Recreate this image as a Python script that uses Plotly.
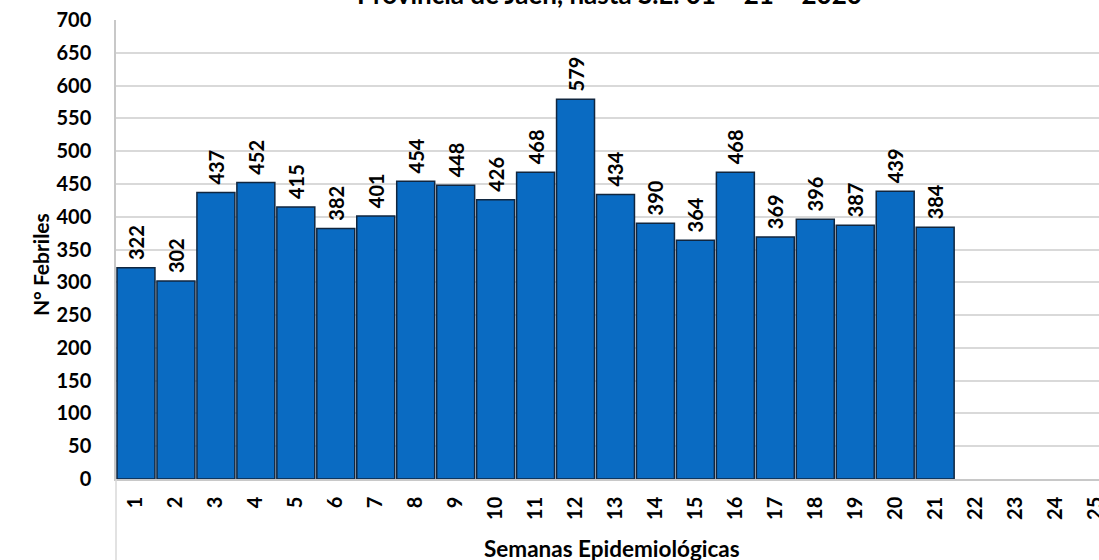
import plotly.graph_objects as go

weeks = [str(i) for i in range(1, 26)]
values = [322, 302, 437, 452, 415, 382, 401, 454, 448, 426, 468, 579, 434, 390, 364, 468, 369, 396, 387, 439, 384]
y_ticks = list(range(0, 701, 50))

title_text = "Provincia de Jaén, hasta S.E. 01 – 21 – 2020"
x_title = "Semanas Epidemiológicas"
y_title = "N° Febriles"

FONT = "Lato"

fig = go.Figure()
fig.add_trace(go.Bar(
    x=weeks[:len(values)], y=values,
    marker=dict(color="#0A6BC2", line=dict(color="#10263F", width=1.5)),
    text=["\u00a0" + str(v) for v in values], textposition="outside", textangle=-90,
    textfont=dict(family=FONT, size=20, color="black", weight="bold"),
    cliponaxis=False, hoverinfo="x+y",
))

fig.update_layout(
    width=1099, height=560,
    margin=dict(l=116, r=0, t=20, b=81),
    paper_bgcolor="white", plot_bgcolor="white",
    showlegend=False, bargap=0.05,
    font=dict(family=FONT, color="black"),
    uniformtext=dict(minsize=20, mode="show"),
    xaxis=dict(
        type="category", categoryorder="array", categoryarray=weeks,
        range=[-0.5, 24.1], tickangle=-90, showgrid=False, automargin=False,
        tickfont=dict(family=FONT, size=20, weight="bold", color="black"),
        ticks="", showline=True, linecolor="#C8C8C8", linewidth=1.5,
        ticklabelstandoff=8,
    ),
    yaxis=dict(
        range=[0, 700], tickvals=y_ticks, showgrid=True, gridcolor="#D9D9D9", gridwidth=1.5,
        tickfont=dict(family=FONT, size=20, weight="bold", color="black"),
        showline=True, linecolor="#C8C8C8", linewidth=1.5, zeroline=False,
        ticklabelstandoff=19, automargin=False,
    ),
    annotations=[
        dict(text=title_text, xref="paper", yref="paper", x=0.5025, y=1.0, yshift=8,
             xanchor="center", yanchor="bottom", showarrow=False,
             font=dict(family=FONT, size=26, weight="bold", color="black")),
        dict(text=x_title, xref="paper", yref="paper", x=0.5046, y=-0.1525,
             xanchor="center", yanchor="middle", showarrow=False,
             font=dict(family=FONT, size=22.5, weight="bold", color="black")),
        dict(text=y_title, xref="paper", yref="paper", x=-0.0773, y=0.466,
             xanchor="center", yanchor="middle", showarrow=False, textangle=-90,
             font=dict(family=FONT, size=21, weight="bold", color="black")),
    ],
    shapes=[dict(type="line", xref="paper", yref="paper", x0=0, x1=0, y0=0, y1=-0.2,
                 line=dict(color="#D9D9D9", width=1.5))],
)

fig.write_html(
    "out.html",
    config={"displayModeBar": False},
    post_script="document.body.style.margin='0';document.body.style.padding='0';",
)
